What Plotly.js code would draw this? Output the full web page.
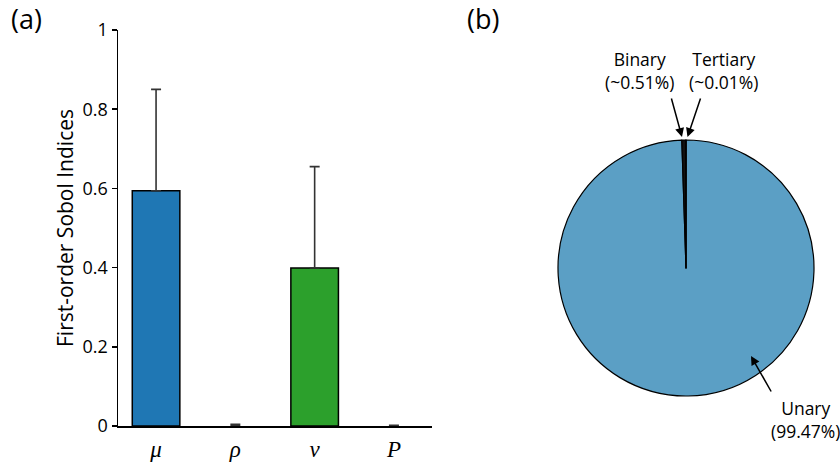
<!DOCTYPE html>
<html>
<head>
<meta charset="utf-8">
<script src="https://cdn.plot.ly/plotly-3.0.1.min.js"></script>
<style>html,body{margin:0;padding:0;background:#fff}#chart{width:840px;height:462px}</style>
</head>
<body>
<div id="chart"></div>
<script>
// Panel (a): first-order Sobol indices
const params = ['μ', 'ρ', 'v', 'P'];
const sobolIndices = [0.594, 0.0, 0.399, 0.0];
const sobolErrors = [0.256, 0.004, 0.256, 0.002];
const barColors = ['#1f77b4', '#1f77b4', '#2ca02c', '#2ca02c'];

// Panel (b): interaction share
const pieLabels = ['Unary', 'Binary', 'Tertiary'];
const pieValues = [99.47, 0.51, 0.01];
const pieColors = ['#5b9fc5', '#111111', '#111111'];

const W = 840, H = 462;
const px = x => x / W;
const py = y => 1 - y / H;

const bar = {
  type: 'bar',
  x: params.map((p, i) => i),
  y: sobolIndices,
  width: 0.6,
  marker: {color: barColors, line: {color: '#000', width: sobolIndices.map(v => v > 0 ? 1.5 : 0)}},
  error_y: {type: 'data', array: sobolErrors, arrayminus: sobolErrors.map(() => 0),
            symmetric: false, color: '#333', thickness: 1.6, width: 5},
  xaxis: 'x', yaxis: 'y',
  hoverinfo: 'skip', showlegend: false
};

const pie = {
  type: 'pie',
  labels: pieLabels,
  values: pieValues,
  sort: false,
  direction: 'clockwise',
  rotation: 0,
  marker: {colors: pieColors, line: {color: '#000', width: 1.2}},
  textinfo: 'none',
  hoverinfo: 'skip',
  showlegend: false,
  domain: {x: [px(558), px(814)], y: [py(396), py(140)]}
};

const font = 'Open Sans, Lato, sans-serif';
const txt = (text, x, y, size) => ({text, x: px(x), y: py(y), xref: 'paper', yref: 'paper',
  xanchor: 'center', yanchor: 'middle', showarrow: false, font: {size, family: font, color: '#000'}});
const arrow = (hx, hy, tx, ty) => ({text: '', x: px(hx), y: py(hy), xref: 'paper', yref: 'paper',
  showarrow: true, ax: tx - hx, ay: ty - hy, axref: 'pixel', ayref: 'pixel',
  arrowhead: 2, arrowsize: 1.2, arrowwidth: 1.5, arrowcolor: '#000'});

const ann = [
  txt('(a)', 26, 19, 27),
  txt('(b)', 483, 19, 27),
  txt('Binary<br>(~0.51%)', 639, 71, 17.5),
  txt('Tertiary<br>(~0.01%)', 723, 71, 17.5),
  txt('Unary<br>(99.47%)', 805, 419, 17.5),
  arrow(682, 137, 671, 97),
  arrow(687.5, 137, 701, 97),
  arrow(751, 356, 772, 393)
];

const layout = {
  width: W, height: H,
  margin: {l: 0, r: 0, t: 0, b: 0},
  paper_bgcolor: '#fff', plot_bgcolor: '#fff',
  font: {family: font, color: '#000'},
  xaxis: {
    domain: [px(118), px(432)],
    range: [-0.48, 3.48],
    tickmode: 'array',
    tickvals: params.map((p, i) => i),
    ticktext: params.map(p => '<i>' + p + '</i>'),
    tickfont: {family: 'Liberation Serif, DejaVu Serif, serif', size: 23, color: '#000'},
    ticklabelstandoff: 2,
    showline: true, linecolor: '#000', linewidth: 1.5,
    ticks: '', showgrid: false, zeroline: false, fixedrange: true
  },
  yaxis: {
    domain: [py(426), py(30)],
    range: [0, 1],
    tickmode: 'array',
    tickvals: [0, 0.2, 0.4, 0.6, 0.8, 1],
    ticktext: ['0', '0.2', '0.4', '0.6', '0.8', '1'],
    tickfont: {size: 18, family: font, color: '#000'},
    ticks: 'outside', ticklen: 5, tickwidth: 1.5, tickcolor: '#000',
    showline: true, linecolor: '#000', linewidth: 1.5,
    showgrid: false, zeroline: false, fixedrange: true,
    title: {text: 'First-order Sobol Indices', font: {size: 21, family: font, color: '#000'}, standoff: 3}
  },
  annotations: ann
};

Plotly.newPlot('chart', [bar, pie], layout, {displayModeBar: false, staticPlot: true});
</script>
</body>
</html>
